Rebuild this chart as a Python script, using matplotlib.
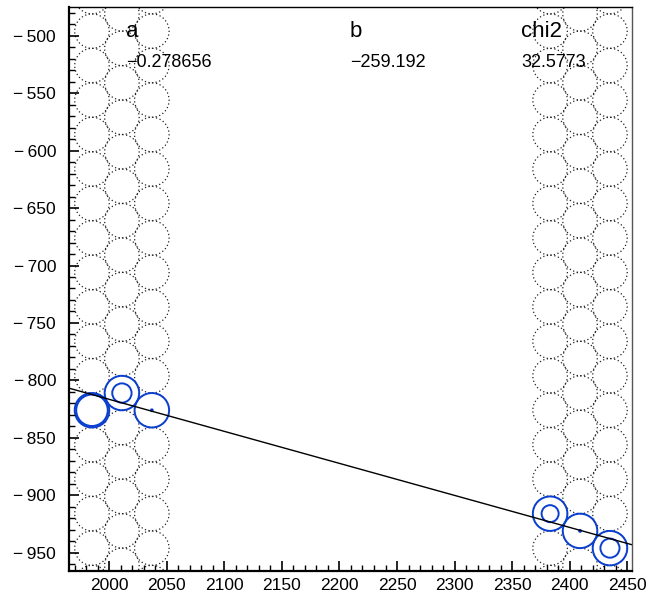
import numpy as np
import matplotlib
matplotlib.use('Agg')
import matplotlib.pyplot as plt
from matplotlib.patches import Circle
from matplotlib.ticker import MultipleLocator, FuncFormatter

plt.rcParams['font.family'] = ['Liberation Sans', 'DejaVu Sans']

# tube geometry (two groups of three staggered columns)
tube_cols_x = [1985, 2011, 2037, 2383, 2409, 2435]
tube_cols_y0 = [-826, -811, -826, -826, -811, -826]
tube_r = 15.0

# hits: tube centre and drift radius
hit_x = [1985, 2011, 2037, 2383, 2409, 2435]
hit_y = [-826, -811, -826, -916, -931, -946]
hit_r = [13.7, 8.4, 0.8, 7.4, 0.8, 8.3]

# fit result
fit_a = -0.278656
fit_b = -259.192
fit_chi2 = 32.5773

x_lim = (1964.6, 2454.4)
y_lim = (-965.9, -475.0)


def root_num(v):
    s = '%g' % v
    if s.startswith('-'):
        s = '\u2212' + s[1:]
    return s


def tick_fmt(v, pos):
    if v < 0:
        return '\u2212\u2009%d' % abs(v)
    return '%d' % v


fig = plt.figure(figsize=(6.47, 5.99), dpi=100)
ax = fig.add_axes([68.5 / 647, 1 - 571 / 599, (632.3 - 68.5) / 647, (571 - 7) / 599])

# all tubes, dotted
for cx, cy0 in zip(tube_cols_x, tube_cols_y0):
    for k in range(-10, 20):
        cy = cy0 + 30 * k
        if cy < y_lim[0] - tube_r or cy > y_lim[1] + tube_r:
            continue
        ax.add_patch(Circle((cx, cy), tube_r, fill=False, ec='#222222',
                            lw=0.9, ls=(0, (1, 2))))

# hit tubes and drift circles
for hx, hy, hr in zip(hit_x, hit_y, hit_r):
    ax.add_patch(Circle((hx, hy), tube_r, fill=False, ec='#0a3fd0', lw=1.4))
    ax.add_patch(Circle((hx, hy), hr, fill=False, ec='#0a3fd0', lw=1.4))

# fitted track
xs = np.array(x_lim)
ax.plot(xs, fit_a * xs + fit_b, color='black', lw=1.0)

# fit parameters
ax.text(2014.9, -501.5, 'a', fontsize=16)
ax.text(2014.9, -527, root_num(fit_a), fontsize=13)
ax.text(2209, -501.5, 'b', fontsize=16)
ax.text(2209, -527, root_num(fit_b), fontsize=13)
ax.text(2357.7, -501.5, 'chi2', fontsize=16)
ax.text(2357.7, -527, root_num(fit_chi2), fontsize=13)

ax.set_xlim(*x_lim)
ax.set_ylim(*y_lim)

ax.xaxis.set_major_locator(MultipleLocator(50))
ax.xaxis.set_minor_locator(MultipleLocator(10))
ax.yaxis.set_major_locator(MultipleLocator(50))
ax.yaxis.set_minor_locator(MultipleLocator(10))
ax.yaxis.set_major_formatter(FuncFormatter(tick_fmt))
ax.tick_params(which='both', direction='in', top=False, right=False, labelsize=12.5)
ax.tick_params(which='major', length=7.5, width=1.2)
ax.tick_params(which='minor', length=4, width=1.0)
ax.tick_params(axis='y', pad=9)
ax.tick_params(axis='x', pad=5)

ax.spines['left'].set_linewidth(1.6)
ax.spines['bottom'].set_linewidth(1.6)
ax.spines['top'].set_linewidth(1.0)
ax.spines['right'].set_linewidth(1.0)
ax.spines['right'].set_color('#555555')

fig.savefig('out.png', dpi=100)
